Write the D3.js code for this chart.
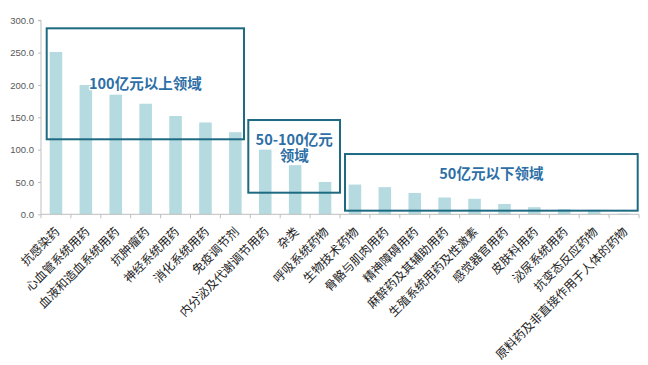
<!DOCTYPE html>
<html><head><meta charset="utf-8">
<script src="https://cdn.jsdelivr.net/npm/d3@7"></script>
<style>body{margin:0;background:#fff;}svg{display:block;}</style>
</head><body>
<svg id="c" width="648" height="365"></svg>
<script>
const categories = ["抗感染药","心血管系统用药","血液和造血系统用药","抗肿瘤药","神经系统用药","消化系统用药","免疫调节剂","内分泌及代谢调节用药","杂类","呼吸系统药物","生物技术药物","骨骼与肌肉用药","精神障碍用药","麻醉药及其辅助用药","生殖系统用药及性激素","感觉器官用药","皮肤科用药","泌尿系统用药","抗变态反应药物","原料药及非直接作用于人体的药物"];
const values = [251,200,185,171,152,142,127,100,76,50,46,42,33,26,24,16,11,8,7,1];
const yTicks = [0,50,100,150,200,250,300];
const groupLabels = [["100亿元以上领域"],["50-100亿元","领域"],["50亿元以下领域"]];
const groupFirst = [0,7,10];
const groupLast = [6,9,19];
const groupBottom = [116,33.4,5.6];
const groupTop = [287.6,145.8,93.2];

const svg = d3.select("#c");
const x0 = 41, x1 = 639, yBase = 214.3, yTop = 20.3;
const x = d3.scaleBand().domain(categories).range([x0, x1]).paddingInner(0.58).paddingOuter(0.29);
const xb = d3.scaleBand().domain(categories).range([x0, x1]);
const y = d3.scaleLinear().domain([0,300]).range([yBase, yTop]);

// bars
svg.append("g").selectAll("rect").data(values).join("rect")
  .attr("x",(d,i)=>x(categories[i])).attr("width",x.bandwidth())
  .attr("y",d=>y(d)).attr("height",d=>yBase-y(d)).attr("fill","#b5dbe0");

// y axis
const yAx = svg.append("g").attr("transform",`translate(${x0},0)`)
  .call(d3.axisLeft(y).tickValues(yTicks).tickFormat(d3.format(".1f")).tickSize(3).tickPadding(4));
yAx.select(".domain").attr("stroke","#bfbfbf").attr("d",`M-3,${yTop}H0V${yBase}`);
yAx.selectAll(".tick line").attr("stroke","#bfbfbf");
yAx.selectAll("text").attr("fill","#595959").style("font-family","Arial, 'Liberation Sans'").style("font-size","9.5px");

// x axis line + ticks at boundaries
const xg = svg.append("g");
xg.append("line").attr("x1",x0).attr("x2",x1).attr("y1",yBase).attr("y2",yBase).attr("stroke","#bfbfbf");
xg.selectAll("line.t").data(d3.range(categories.length+1)).join("line").attr("class","t")
  .attr("x1",i=>x0+i*xb.bandwidth()).attr("x2",i=>x0+i*xb.bandwidth())
  .attr("y1",yBase).attr("y2",yBase+4).attr("stroke","#bfbfbf");
xg.selectAll("text").data(categories).join("text")
  .attr("transform",d=>`translate(${xb(d)+xb.bandwidth()/2+2},${yBase+16}) rotate(-45)`)
  .attr("text-anchor","end").attr("dominant-baseline","middle")
  .style("font-family","'Noto Sans CJK SC'").style("font-size","12px").attr("fill","#222")
  .text(d=>d);

// group boxes
const leftAdj = [5.7,-2,5];
const rightAdj = [-6.3,0,-1.3];
const textY = [85,141,175];
const boxes = svg.append("g");
groupFirst.forEach((f,k)=>{
  const bx0 = xb(categories[f]) + leftAdj[k];
  const bx1 = xb(categories[groupLast[k]]) + xb.bandwidth() + rightAdj[k];
  const by0 = y(groupTop[k]), by1 = y(groupBottom[k]);
  boxes.append("rect").attr("x",bx0).attr("y",by0).attr("width",bx1-bx0).attr("height",by1-by0)
    .attr("fill","none").attr("stroke","#1e6a82").attr("stroke-width",2);
  const cx = (bx0+bx1)/2;
  const t = boxes.append("text").attr("x",cx).attr("y",textY[k]).attr("text-anchor","middle")
    .attr("dominant-baseline","middle")
    .style("font-family","'Noto Sans CJK SC'").style("font-weight","bold").style("font-size","14.5px")
    .attr("fill","#2d6fa6").attr("stroke","#ffffff").attr("stroke-width",2.5).attr("paint-order","stroke");
  groupLabels[k].forEach((l,j)=>t.append("tspan").attr("x",cx).attr("dy",j===0?0:16).text(l));
});
</script>
</body></html>
